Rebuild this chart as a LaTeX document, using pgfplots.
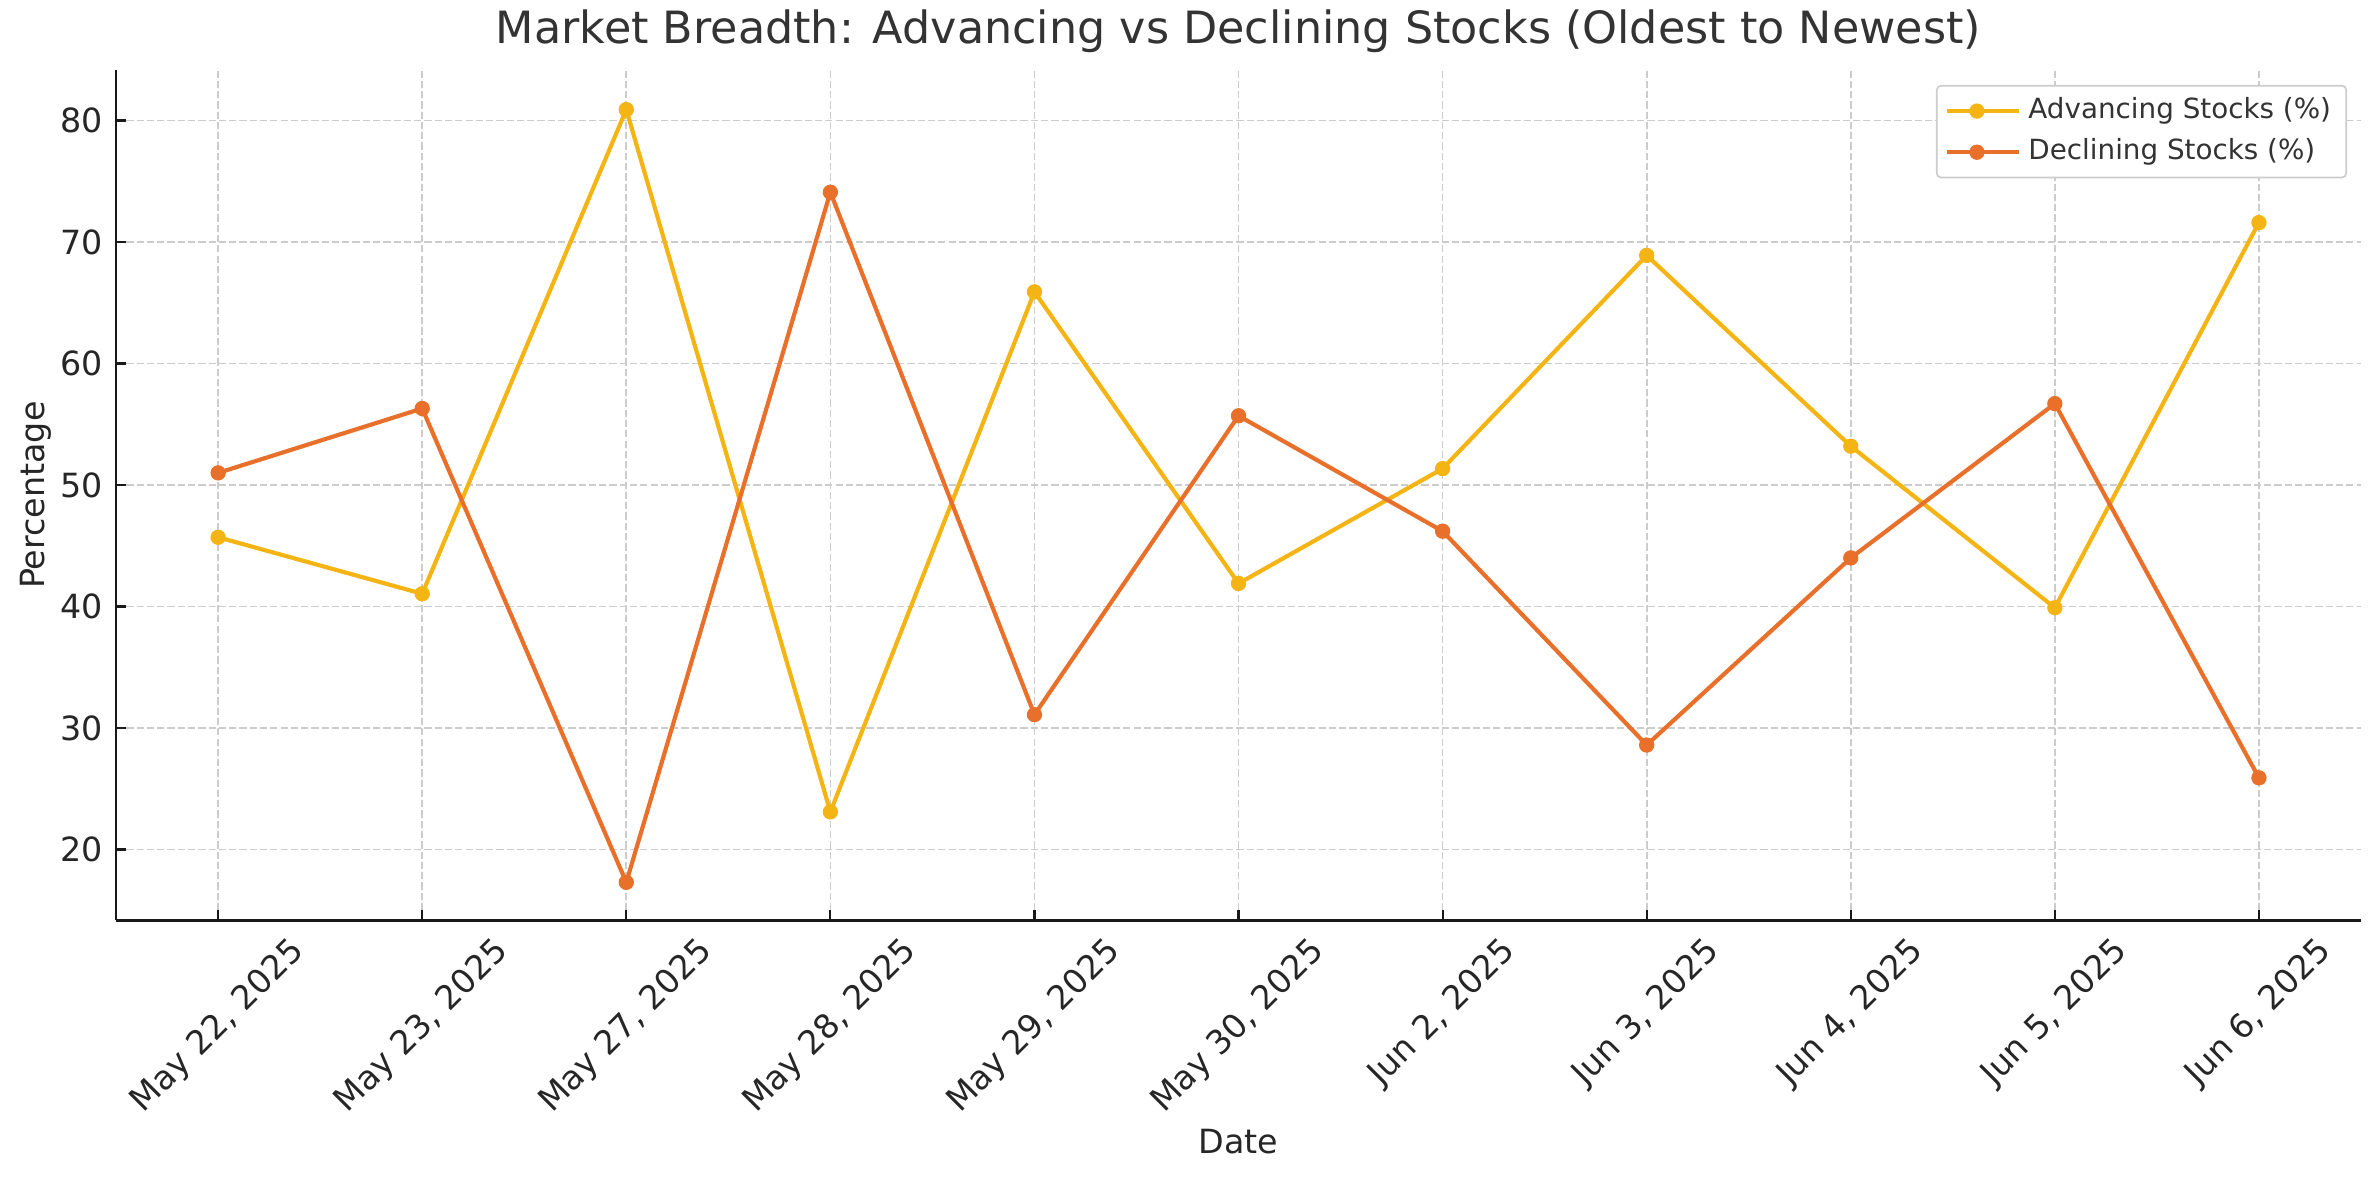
\documentclass[border=0pt]{standalone}
\usepackage{fontspec}
\setmainfont{DejaVu Sans}
\usepackage{graphicx}
\usepackage{pgfplots}
\pgfplotsset{compat=1.18}
\definecolor{advc}{HTML}{F4B414}
\definecolor{decc}{HTML}{E8702A}
\definecolor{txt}{HTML}{262626}
\newcommand{\rl}[1]{\rotatebox{45}{#1}}
\begin{document}
\begin{tikzpicture}
\useasboundingbox (-41.8pt,-93.2pt) rectangle (814.7pt,331.4pt);
\begin{axis}[
  at={(0,0)}, anchor=south west,
  scale only axis, width=808.2pt, height=306.2pt,
  xmin=-0.5, xmax=10.5, ymin=14.16, ymax=84.16,
  xtick={0,1,2,3,4,5,6,7,8,9,10},
  xticklabels={{\rl{May 22, 2025}},{\rl{May 23, 2025}},{\rl{May 27, 2025}},{\rl{May 28, 2025}},{\rl{May 29, 2025}},{\rl{May 30, 2025}},{\rl{Jun 2, 2025}},{\rl{Jun 3, 2025}},{\rl{Jun 4, 2025}},{\rl{Jun 5, 2025}},{\rl{Jun 6, 2025}}},
  ytick={20,30,40,50,60,70,80},
  axis x line*=bottom, axis y line*=left,
  axis line style={line width=1pt, black!90},
  tick align=inside, major tick length=3.6pt,
  tick style={line width=0.8pt, black!90},
  grid=major,
  major grid style={dash pattern=on 2.6pt off 1.1pt, line width=0.6pt, black!20},
  ticklabel style={font=\fontsize{12}{14}\selectfont, text=txt},
  xticklabel style={anchor=north, inner sep=0pt, yshift=-5pt},
  yticklabel style={anchor=east, inner sep=0pt, xshift=-4.5pt},
  /pgf/number format/assume math mode=true,
  title={Market Breadth: Advancing vs Declining Stocks (Oldest to Newest)},
  every axis title/.style={at={(0.5,1)}, anchor=south, inner sep=0pt, yshift=6pt, font=\fontsize{16}{19}\selectfont, text=black!80},
  xlabel={Date}, ylabel={Percentage},
  every axis x label/.style={at={(axis description cs:0.5,-0.26)}, anchor=center, font=\fontsize{12}{14}\selectfont, text=txt},
  every axis y label/.style={at={(axis description cs:-0.0356,0.5)}, rotate=90, anchor=center, font=\fontsize{12}{14}\selectfont, text=txt},
  legend cell align=left,
  legend style={at={(1,1)}, anchor=north east, xshift=-5pt, yshift=-5.4pt,
    font=\fontsize{10}{12}\selectfont, text=black!80, draw=black!20, line width=0.6pt,
    rounded corners=1.5pt, fill=white, inner xsep=2.9pt, inner ysep=1.7pt,
    nodes={inner xsep=2.6pt, inner ysep=2.4pt, text height=7.6pt, text depth=2.4pt}},
  legend image code/.code={\draw[mark repeat=2,mark phase=2] plot coordinates {(0pt,0pt) (10.8pt,0pt) (21.6pt,0pt)}; \path (0pt,0pt) -- (26pt,0pt);},
]
\addplot[color=advc, line width=1.5pt, mark=*, mark size=2.6pt, mark options={solid, fill=advc, draw=advc, line width=0.3pt}] coordinates {
(0,45.7) (1,41.05) (2,80.9) (3,23.1) (4,65.9) (5,41.9) (6,51.35) (7,68.9) (8,53.2) (9,39.9) (10,71.6)};
\addlegendentry{Advancing Stocks (\%)}
\addplot[color=decc, line width=1.5pt, mark=*, mark size=2.6pt, mark options={solid, fill=decc, draw=decc, line width=0.3pt}] coordinates {
(0,51.0) (1,56.3) (2,17.3) (3,74.1) (4,31.1) (5,55.7) (6,46.2) (7,28.6) (8,44.0) (9,56.7) (10,25.9)};
\addlegendentry{Declining Stocks (\%)}
\end{axis}
\end{tikzpicture}
\end{document}
